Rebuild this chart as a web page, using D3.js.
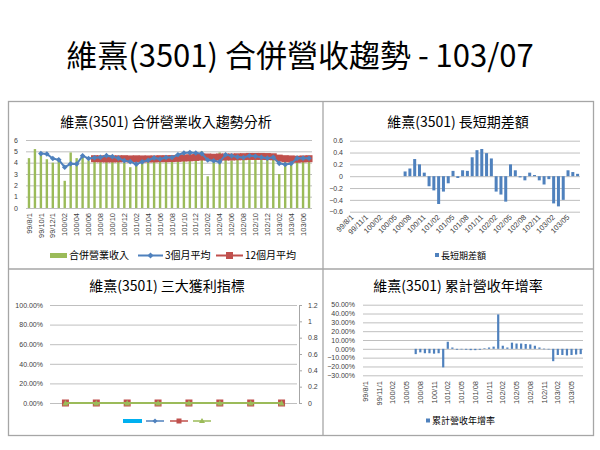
<!DOCTYPE html>
<html>
<head>
<meta charset="utf-8">
<script src="https://cdn.jsdelivr.net/npm/d3@7"></script>
<style>
  body { margin: 0; background: #fff; }
  svg text { font-family: "Noto Sans CJK TC", "Noto Sans", sans-serif; fill: #000; }
  .tick text { font-family: "Liberation Sans", "DejaVu Sans", sans-serif; fill: #404040; }
</style>
</head>
<body>
<svg id="chart" width="600" height="450"></svg>
<script>
// month categories 99/08 .. 103/07
const months = ["99/8/1","99/9/1","99/10/1","99/11/1","99/12/1",
  "100/01","100/02","100/03","100/04","100/05","100/06","100/07","100/08","100/09","100/10","100/11","100/12",
  "101/01","101/02","101/03","101/04","101/05","101/06","101/07","101/08","101/09","101/10","101/11","101/12",
  "102/01","102/02","102/03","102/04","102/05","102/06","102/07","102/08","102/09","102/10","102/11","102/12",
  "103/01","103/02","103/03","103/04","103/05","103/06","103/07"];

// 合併營業收入
const revenue = [4.4,5.2,4.8,4.3,4.0,4.4,2.4,4.9,4.4,4.5,4.2,4.3,4.5,4.6,4.6,4.1,4.0,3.6,4.0,4.0,4.3,4.4,4.4,4.1,
  4.6,4.8,4.9,4.8,4.9,5.0,2.8,4.6,4.9,4.5,4.2,4.7,4.6,4.5,4.6,4.3,4.3,4.3,3.0,4.2,4.3,4.6,4.5,4.4];
// 3個月平均
const avg3 = [null,null,4.8,4.77,4.37,4.25,3.6,3.9,3.88,4.6,4.37,4.43,4.47,4.62,4.53,4.4,4.18,4.09,3.87,4.07,4.21,4.42,4.32,4.45,
  4.45,4.7,4.85,4.89,4.85,4.8,4.24,4.17,4.07,4.7,4.6,4.5,4.46,4.61,4.57,4.48,4.4,4.47,3.94,3.84,3.93,4.4,4.4,4.39];
// 12個月平均
const avg12 = [null,null,null,null,null,null,null,null,null,null,null,
  4.35,4.34,4.33,4.33,4.34,4.35,4.33,4.34,4.33,4.33,4.33,4.35,4.35,4.36,4.38,4.41,4.43,4.46,4.5,4.5,4.48,4.5,4.5,4.5,
  4.52,4.53,4.55,4.55,4.55,4.54,4.52,4.4,4.35,4.33,4.3,4.33,4.35];
// 長短期差額
const gap = [null,null,null,null,null,null,null,null,null,null,null,
  0.08,0.13,0.29,0.2,0.06,-0.17,-0.24,-0.47,-0.26,-0.12,0.09,-0.03,0.1,0.09,0.32,0.44,0.46,0.39,0.3,-0.26,-0.31,-0.43,
  0.2,0.1,-0.02,-0.07,0.06,0.02,-0.07,-0.14,-0.05,-0.46,-0.51,-0.4,0.1,0.07,0.04];
// 累計營收年增率
const cumYoY = [null,null,null,null,null,null,null,null,null,null,null,
  -0.06,-0.04,-0.05,-0.05,-0.055,-0.05,-0.21,0.08,0.015,-0.01,-0.005,-0.01,-0.015,-0.015,-0.01,0.005,0.015,0.025,
  0.39,0.035,0.015,0.07,0.06,0.06,0.055,0.05,0.035,0.015,0.002,0,-0.14,-0.07,-0.07,-0.075,-0.07,-0.065,-0.06];

// 三大獲利指標 (8 periods, all zero)
const profitPeriods = [0,1,2,3,4,5,6,7];
const profitBar = [0,0,0,0,0,0,0,0];
const grossMargin = [0,0,0,0,0,0,0,0];
const opMargin = [0,0,0,0,0,0,0,0];
const netMargin = [0,0,0,0,0,0,0,0];

const mainTitle = "維熹(3501) 合併營收趨勢 - 103/07";
const titles = ["維熹(3501) 合併營業收入趨勢分析", "維熹(3501) 長短期差額", "維熹(3501) 三大獲利指標", "維熹(3501) 累計營收年增率"];
const legend1 = ["合併營業收入", "3個月平均", "12個月平均"];

const GREEN = "#9bbb59", BLUE = "#4f81bd", RED = "#c0504d", CYAN = "#00b0f0";
const svg = d3.select("#chart");

svg.append("text").attr("x", 300).attr("y", 67).attr("text-anchor", "middle")
  .attr("font-size", 31).text(mainTitle);

// panel frame
const frame = svg.append("g").attr("fill", "none").attr("stroke", "#a6a6a6").attr("stroke-width", 1.3);
frame.append("rect").attr("x", 8.5).attr("y", 101.5).attr("width", 585).attr("height", 334);
frame.append("line").attr("x1", 323).attr("x2", 323).attr("y1", 101.5).attr("y2", 435.5);
frame.append("line").attr("x1", 8.5).attr("x2", 593.5).attr("y1", 269).attr("y2", 269);

[[166, 127], [458, 127], [167, 291], [458, 291]].forEach(([x, y], i) => {
  svg.append("text").attr("x", x).attr("y", y).attr("text-anchor", "middle")
    .attr("font-size", 14).text(titles[i]);
});

function grid(sel) {
  sel.select(".domain").remove();
  sel.selectAll(".tick line").attr("stroke", "#bfbfbf");
  sel.selectAll(".tick text").attr("font-size", 7);
}

function diamond(g, cx, cy, r, color) {
  g.append("path").attr("d", `M${cx},${cy - r}L${cx + r},${cy}L${cx},${cy + r}L${cx - r},${cy}Z`).attr("fill", color);
}

// ---------- panel 1 ----------
{
  const x = d3.scaleBand().domain(months).range([26, 312]);
  const y = d3.scaleLinear().domain([0, 6]).range([208, 140]);
  const g = svg.append("g");

  g.append("g").attr("transform", "translate(26,0)")
    .call(d3.axisLeft(y).tickValues(d3.range(0, 7)).tickSize(-286).tickPadding(8).tickFormat(d3.format("d")))
    .call(grid);

  g.append("g").attr("transform", "translate(0,208)")
    .call(d3.axisBottom(x).tickValues(months.filter((d, i) => i % 2 === 0)).tickSize(0))
    .call(s => s.select(".domain").remove())
    .call(s => s.selectAll("text").attr("font-size", 7.5).attr("transform", "rotate(-90)")
      .attr("text-anchor", "end").attr("x", -5).attr("y", 0).attr("dy", "0.35em"));

  const bw = 2.4;
  g.selectAll(".rev").data(revenue).join("rect")
    .attr("x", (d, i) => x(months[i]) + x.bandwidth() / 2 - bw / 2)
    .attr("y", d => y(d)).attr("width", bw).attr("height", d => y(0) - y(d))
    .attr("fill", GREEN);

  const cx = i => x(months[i]) + x.bandwidth() / 2;

  const line12 = d3.line().defined(d => d != null).x((d, i) => cx(i)).y(d => y(d));
  g.append("path").datum(avg12).attr("d", line12).attr("fill", "none").attr("stroke", RED).attr("stroke-width", 2);
  g.selectAll(".sq").data(avg12.map((v, i) => [v, i]).filter(d => d[0] != null)).join("rect")
    .attr("x", d => cx(d[1]) - 3.5).attr("y", d => y(d[0]) - 3.5).attr("width", 7).attr("height", 7)
    .attr("fill", RED);

  const line3 = d3.line().defined(d => d != null).x((d, i) => cx(i)).y(d => y(d));
  g.append("path").datum(avg3).attr("d", line3).attr("fill", "none").attr("stroke", BLUE).attr("stroke-width", 2);
  avg3.forEach((v, i) => { if (v != null) diamond(g, cx(i), y(v), 2.8, BLUE); });

  // legend
  const lg = svg.append("g");
  lg.append("rect").attr("x", 50).attr("y", 253).attr("width", 17).attr("height", 5).attr("fill", GREEN);
  lg.append("text").attr("x", 69).attr("y", 259).attr("font-size", 10).text(legend1[0]);
  lg.append("line").attr("x1", 138).attr("x2", 163).attr("y1", 255.5).attr("y2", 255.5).attr("stroke", BLUE).attr("stroke-width", 2);
  diamond(lg, 150.5, 255.5, 3, BLUE);
  lg.append("text").attr("x", 165).attr("y", 259).attr("font-size", 10).text(legend1[1]);
  lg.append("line").attr("x1", 216).attr("x2", 243).attr("y1", 255.5).attr("y2", 255.5).attr("stroke", RED).attr("stroke-width", 2);
  lg.append("rect").attr("x", 226).attr("y", 252).attr("width", 7).attr("height", 7).attr("fill", RED);
  lg.append("text").attr("x", 245).attr("y", 259).attr("font-size", 10).text(legend1[2]);
}

// ---------- panel 2 ----------
{
  const x = d3.scaleBand().domain(months).range([350, 580]);
  const y = d3.scaleLinear().domain([-0.6, 0.6]).range([211.7, 140.7]);
  const g = svg.append("g");

  g.append("g").attr("transform", "translate(350,0)")
    .call(d3.axisLeft(y).tickValues(d3.range(-6, 7, 2).map(v => v / 10)).tickSize(-230).tickPadding(7)
      .tickFormat(d => d === 0 ? "0" : d3.format(".1f")(d)))
    .call(grid);

  g.append("g").attr("transform", "translate(0,213)")
    .call(d3.axisBottom(x).tickValues(months.filter((d, i) => i % 3 === 0)).tickSize(0))
    .call(s => s.select(".domain").remove())
    .call(s => s.selectAll("text").attr("font-size", 7.5).attr("transform", "rotate(-45)")
      .attr("text-anchor", "end").attr("x", -2).attr("y", 2).attr("dy", "0.35em"));

  const bw = 3;
  g.selectAll(".gap").data(gap.map((v, i) => [v, i]).filter(d => d[0] != null)).join("rect")
    .attr("x", d => x(months[d[1]]) + x.bandwidth() / 2 - bw / 2)
    .attr("y", d => y(Math.max(0, d[0]))).attr("width", bw)
    .attr("height", d => Math.abs(y(d[0]) - y(0)))
    .attr("fill", BLUE);

  svg.append("rect").attr("x", 435).attr("y", 253).attr("width", 4).attr("height", 4).attr("fill", BLUE);
  svg.append("text").attr("x", 441).attr("y", 258.5).attr("font-size", 9).text("長短期差額");
}

// ---------- panel 3 ----------
{
  const x = d3.scaleBand().domain(profitPeriods).range([50, 297]);
  const yL = d3.scaleLinear().domain([0, 1]).range([403, 305]);
  const yR = d3.scaleLinear().domain([0, 1.2]).range([403, 305]);
  const g = svg.append("g");

  g.append("g").attr("transform", "translate(50,0)")
    .call(d3.axisLeft(yL).tickValues([0, 0.2, 0.4, 0.6, 0.8, 1]).tickSize(-247).tickPadding(7).tickFormat(d3.format(".2%")))
    .call(grid);

  g.append("g").attr("transform", "translate(299,0)")
    .call(d3.axisRight(yR).tickValues([0, 0.2, 0.4, 0.6, 0.8, 1, 1.2]).tickSize(3).tickPadding(6)
      .tickFormat(d => d === 0 ? "0" : String(+d.toFixed(1))))
    .call(s => s.select(".domain").attr("stroke", "#a6a6a6"))
    .call(s => s.selectAll(".tick line").attr("stroke", "#a6a6a6"))
    .call(s => s.selectAll(".tick text").attr("font-size", 7));

  const cx = i => x(i) + x.bandwidth() / 2;
  g.selectAll(".pb").data(profitBar).join("rect")
    .attr("x", (d, i) => cx(i) - 6).attr("y", d => yL(d)).attr("width", 12).attr("height", d => yL(0) - yL(d))
    .attr("fill", CYAN);

  const ln = d3.line().x((d, i) => cx(i)).y(d => yL(d));
  g.append("path").datum(grossMargin).attr("d", ln).attr("fill", "none").attr("stroke", BLUE).attr("stroke-width", 2);
  grossMargin.forEach((v, i) => diamond(g, cx(i), yL(v), 3, BLUE));
  g.append("path").datum(opMargin).attr("d", ln).attr("fill", "none").attr("stroke", RED).attr("stroke-width", 2);
  opMargin.forEach((v, i) => g.append("rect").attr("x", cx(i) - 3.5).attr("y", yL(v) - 3.5).attr("width", 7).attr("height", 7).attr("fill", RED));
  g.append("path").datum(netMargin).attr("d", ln).attr("fill", "none").attr("stroke", GREEN).attr("stroke-width", 2);
  netMargin.forEach((v, i) => g.append("path")
    .attr("d", `M${cx(i)},${yL(v) - 3}L${cx(i) + 3},${yL(v) + 2.5}L${cx(i) - 3},${yL(v) + 2.5}Z`).attr("fill", GREEN));

  const lg = svg.append("g");
  lg.append("rect").attr("x", 123).attr("y", 419).attr("width", 19).attr("height", 4).attr("fill", CYAN);
  lg.append("line").attr("x1", 146).attr("x2", 164).attr("y1", 421).attr("y2", 421).attr("stroke", BLUE).attr("stroke-width", 1.5);
  diamond(lg, 155, 421, 2.5, BLUE);
  lg.append("line").attr("x1", 170).attr("x2", 188).attr("y1", 421).attr("y2", 421).attr("stroke", RED).attr("stroke-width", 1.5);
  lg.append("rect").attr("x", 176.5).attr("y", 418.5).attr("width", 5).attr("height", 5).attr("fill", RED);
  lg.append("line").attr("x1", 193).attr("x2", 211).attr("y1", 421).attr("y2", 421).attr("stroke", GREEN).attr("stroke-width", 1.5);
  lg.append("path").attr("d", "M202,418L205,423L199,423Z").attr("fill", GREEN);
}

// ---------- panel 4 ----------
{
  const x = d3.scaleBand().domain(months).range([363, 583]);
  const y = d3.scaleLinear().domain([-0.3, 0.5]).range([375.3, 304.7]);
  const g = svg.append("g");

  g.append("g").attr("transform", "translate(363,0)")
    .call(d3.axisLeft(y).tickValues(d3.range(-3, 6).map(v => v / 10)).tickSize(-220).tickPadding(8).tickFormat(d3.format(".2%")))
    .call(grid);

  g.append("g").attr("transform", "translate(0,377)")
    .call(d3.axisBottom(x).tickValues(months.filter((d, i) => i % 3 === 0)).tickSize(0))
    .call(s => s.select(".domain").remove())
    .call(s => s.selectAll("text").attr("font-size", 7.5).attr("transform", "rotate(-90)")
      .attr("text-anchor", "end").attr("x", -4).attr("y", 0).attr("dy", "0.35em"));

  const bw = 2.2;
  g.selectAll(".yoy").data(cumYoY.map((v, i) => [v, i]).filter(d => d[0] != null)).join("rect")
    .attr("x", d => x(months[d[1]]) + x.bandwidth() / 2 - bw / 2)
    .attr("y", d => y(Math.max(0, d[0]))).attr("width", bw)
    .attr("height", d => Math.max(0.6, Math.abs(y(d[0]) - y(0))))
    .attr("fill", BLUE);

  svg.append("rect").attr("x", 426).attr("y", 418.5).attr("width", 4).attr("height", 4).attr("fill", BLUE);
  svg.append("text").attr("x", 432).attr("y", 424).attr("font-size", 9).text("累計營收年增率");
}
</script>
</body>
</html>
